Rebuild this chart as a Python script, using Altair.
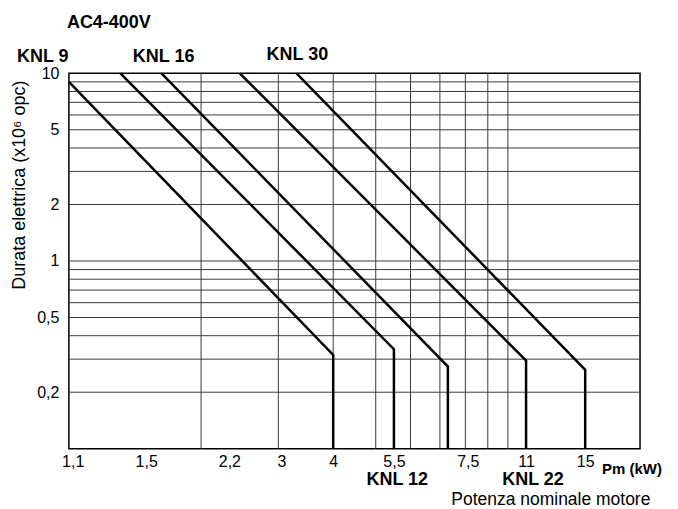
import altair as alt
import pandas as pd

# ---- data ----
series = ["KNL 9", "KNL 12", "KNL 16", "KNL 22", "KNL 30"]
start_x = [1.0, 1.31, 1.625, 2.45, 3.30]
start_y = [9.0, 10.0, 10.0, 10.0, 10.0]
knee_x = [4.0, 5.5, 7.3, 11.0, 15.0]
knee_y = [0.316, 0.339, 0.274, 0.295, 0.263]
bottom_y = 0.1

x_tick_pos = [1.02, 1.5, 2.32, 3.05, 4.0, 5.5, 8.1, 11.0, 15.0]
x_tick_lab = ["1,1", "1,5", "2,2", "3", "4", "5,5", "7,5", "11", "15"]
y_tick_pos = [0.2, 0.5, 1, 2, 5, 10]
y_tick_lab = ["0,2", "0,5", "1", "2", "5", "10"]

v_grid = [2, 3, 4, 5, 6, 7, 8, 9, 10]
h_grid = [0.2, 0.3, 0.4, 0.5, 0.6, 0.7, 0.8, 0.9, 1, 2, 3, 4, 5, 6, 7, 8, 9]

# ---- tables ----
rows = []
for s, sx, sy, kx, ky in zip(series, start_x, start_y, knee_x, knee_y):
    rows.append({"s": s, "o": 0, "x": sx, "y": sy})
    rows.append({"s": s, "o": 1, "x": kx, "y": ky})
    rows.append({"s": s, "o": 2, "x": kx, "y": bottom_y})
curves = pd.DataFrame(rows)

FONT = "Liberation Sans"

def expr(pos, lab):
    e = "''"
    for p, l in reversed(list(zip(pos, lab))):
        e = f"datum.value == {p} ? '{l}' : ({e})"
    return e

xs = alt.Scale(type="log", domain=[1, 20], nice=False)
ys = alt.Scale(type="log", domain=[0.1, 10], nice=False)

xaxis = alt.Axis(values=x_tick_pos, labelExpr=expr(x_tick_pos, x_tick_lab), title=None,
                 grid=False, ticks=False, domain=False, labelFontSize=16, labelFont=FONT,
                 labelColor="black", labelPadding=5, labelFlush=False)
yaxis = alt.Axis(values=y_tick_pos, labelExpr=expr(y_tick_pos, y_tick_lab), title=None,
                 grid=False, ticks=False, domain=False, labelFontSize=16, labelFont=FONT,
                 labelColor="black", labelPadding=10, labelFlush=False)

hgrid = alt.Chart(pd.DataFrame({"y": h_grid})).mark_rule(color="#3a3a3a", strokeWidth=1).encode(
    y=alt.Y("y:Q", scale=ys, axis=yaxis))
vgrid = alt.Chart(pd.DataFrame({"x": v_grid})).mark_rule(color="#3a3a3a", strokeWidth=1).encode(
    x=alt.X("x:Q", scale=xs, axis=xaxis))

lines = alt.Chart(curves).mark_line(color="black", strokeWidth=2.5, strokeJoin="miter").encode(
    x=alt.X("x:Q", scale=xs, axis=xaxis),
    y=alt.Y("y:Q", scale=ys, axis=yaxis),
    detail="s:N",
    order="o:Q",
)

def label(text, px, py, size, bold=True, align="left", angle=0):
    return alt.Chart(pd.DataFrame({"t": [text]})).mark_text(
        text=text, align=align, baseline="alphabetic", fontSize=size, font=FONT,
        fontWeight="bold" if bold else "normal", color="black", angle=angle,
    ).encode(x=alt.value(px), y=alt.value(py))

texts = [
    label("AC4-400V", -2, -45, 18),
    label("KNL 9", -52, -11, 18),
    label("KNL 16", 64, -11, 18),
    label("KNL 30", 198, -13, 18),
    label("KNL 12", 298, 412, 18),
    label("KNL 22", 434, 412, 18),
    label("Pm (kW)", 534, 401, 15),
    label("Potenza nominale motore", 383, 432, 17.5, bold=False),
    label("Durata elettrica (x10\u2076 opc)", -44, 112, 18, bold=False, align="center", angle=270),
]

chart = alt.layer(hgrid, vgrid, lines, *texts).properties(
    width=572, height=376,
    padding={"left": 61, "top": 65, "right": 30, "bottom": 60},
    autosize=alt.AutoSizeParams(type="none"),
).configure_view(stroke="black", strokeWidth=1.5)

chart.save("out.html", embed_options={"renderer": "svg", "actions": False})
